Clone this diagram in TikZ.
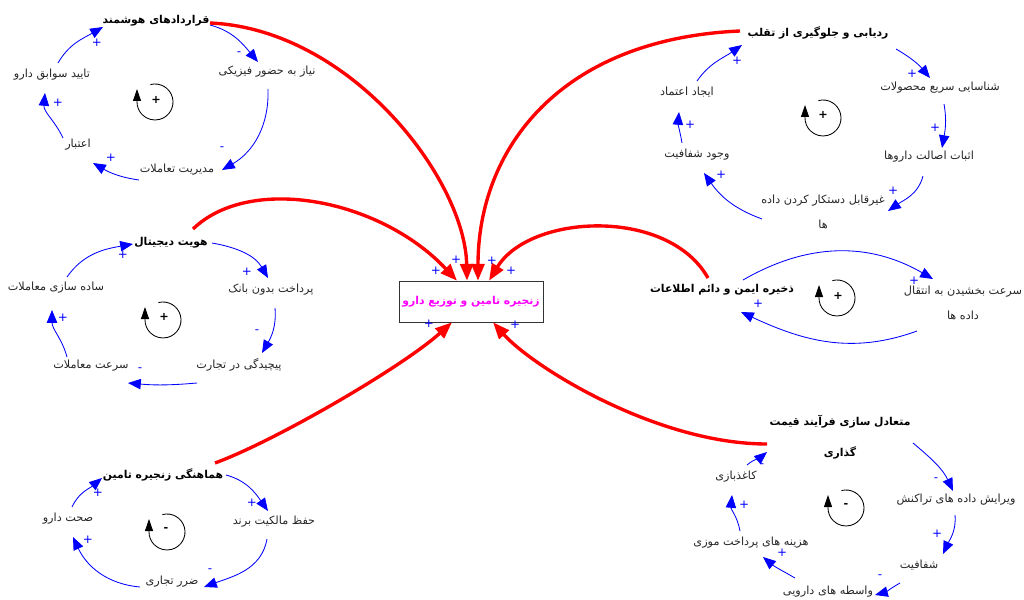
\documentclass[tikz,border=0pt]{standalone}
\usepackage{fontspec}
\usetikzlibrary{arrows.meta}
\newfontfamily\fa[Script=Arabic]{DejaVu Sans}
\TeXXeTstate=1
\newcommand{\fat}[1]{\beginR #1\endR}
\definecolor{linkblue}{RGB}{0,0,255}
\definecolor{feedred}{RGB}{255,0,0}
\definecolor{titlemag}{RGB}{255,0,255}

\begin{document}
\begin{tikzpicture}[x=0.025cm,y=0.025cm,
    var/.style={font={\fa\fontsize{8}{18}\selectfont}, text=black!85, inner sep=1pt, align=center},
    keyvar/.style={font={\fa\bfseries\fontsize{7.7}{22}\selectfont}, text=black, inner sep=1pt, align=center},
    sgn/.style={font={\fa\fontsize{8.5}{8}\selectfont}, text=linkblue, inner sep=0pt},
    loopsgn/.style={font={\fa\bfseries\fontsize{8}{8}\selectfont}, inner sep=0pt},
    link/.style={draw=linkblue, line width=0.6pt, -{Triangle[length=0.32cm,width=0.26cm]}},
    feed/.style={draw=feedred, line width=2.4pt, -{Triangle[length=0.42cm,width=0.32cm]}},
    loopmark/.style={draw=black, line width=0.6pt, -{Triangle[length=0.3cm,width=0.2cm]}}]
  \useasboundingbox (0,0) rectangle (1024,599);

  % central variable
  \node[draw=black!80, fill=white, minimum width=3.6cm, minimum height=1.025cm, inner sep=1pt,
        font={\fa\bfseries\fontsize{7.7}{10}\selectfont}, text=titlemag] (c) at (471,297.5) {\fat{زنجیره تامین و توزیع دارو}};

  % Loop 1: smart contracts
  \node[keyvar] (q1) at (156,578) {\fat{قراردادهای هوشمند}};
  \node[var] (q2) at (267,527) {\fat{نیاز به حضور فیزیکی}};
  \node[var] (q5) at (177,429) {\fat{مدیریت تعاملات}};
  \node[var] (q4) at (78,454) {\fat{اعتبار}};
  \node[var] (q3) at (52,524) {\fat{تایید سوابق دارو}};
  \draw[link] ([shift={(54,-4)}]q1.center) to[out=-15,in=130] ([shift={(-9,10)}]q2.center);
  \draw[link] ([shift={(1,-17)}]q2.center) to[out=-88,in=30] ([shift={(45,0)}]q5.center);
  \draw[link] ([shift={(-38,-10)}]q5.center) to[out=172,in=-30] ([shift={(15,-18)}]q4.center);
  \draw[link] ([shift={(-15,7)}]q4.center) to[out=115,in=-95] ([shift={(-7,-18)}]q3.center);
  \draw[link] ([shift={(6,12)}]q3.center) to[out=60,in=-150] ([shift={(-53,-6)}]q1.center);
  \node[sgn] (qs1) at (239,545) {-};
  \node[sgn] (qs2) at (222,450) {-};
  \node[sgn] (qs3) at (111,441) {+};
  \node[sgn] (qs4) at (58,496) {+};
  \node[sgn] (qs5) at (97,556) {+};
  \draw[loopmark] (155,497) ++(105:18) arc (105:-180:18) -- ++(0,13);
  \node[loopsgn] (ql) at (156,499) {+};

  % Loop 2: digital identity
  \node[keyvar] (h1) at (171,356) {\fat{هویت دیجیتال}};
  \node[var] (h2) at (271,309) {\fat{پرداخت بدون بانک}};
  \node[var] (h3) at (239,234) {\fat{پیچیدگی در تجارت}};
  \node[var] (h4) at (91,233) {\fat{سرعت معاملات}};
  \node[var] (h5) at (56,311) {\fat{ساده سازی معاملات}};
  \draw[link] ([shift={(41,0)}]h1.center) to[out=-10,in=120] ([shift={(-3,12)}]h2.center);
  \draw[link] ([shift={(4,-18)}]h2.center) to[out=-85,in=60] ([shift={(23,12)}]h3.center);
  \draw[link] ([shift={(-42,-18)}]h3.center) to[out=185,in=-5] ([shift={(37,-17)}]h4.center);
  \draw[link] ([shift={(-24,9)}]h4.center) to[out=105,in=-90] ([shift={(-4,-22)}]h5.center);
  \draw[link] ([shift={(11,11)}]h5.center) to[out=55,in=-170] ([shift={(-38,-1)}]h1.center);
  \node[sgn] (hs1) at (247,327) {+};
  \node[sgn] (hs2) at (257,267) {-};
  \node[sgn] (hs3) at (140,229) {-};
  \node[sgn] (hs4) at (63,281) {+};
  \node[sgn] (hs5) at (123,344) {+};
  \draw[loopmark] (163,279) ++(105:18) arc (105:-180:18) -- ++(0,13);
  \node[loopsgn] (hl) at (164,282) {+};

  % Loop 3: supply chain coordination
  \node[keyvar] (m1) at (163,124) {\fat{هماهنگی زنجیره تامین}};
  \node[var] (m2) at (274,77) {\fat{حفظ مالکیت برند}};
  \node[var] (m3) at (172,17) {\fat{ضرر تجاری}};
  \node[var] (m4) at (68,80) {\fat{صحت دارو}};
  \draw[link] ([shift={(63,0)}]m1.center) to[out=-15,in=125] ([shift={(-6,11)}]m2.center);
  \draw[link] ([shift={(-7,-17)}]m2.center) to[out=-100,in=20] ([shift={(32,-5)}]m3.center);
  \draw[link] ([shift={(-32,-5)}]m3.center) to[out=175,in=-65] ([shift={(5,-18)}]m4.center);
  \draw[link] ([shift={(4,12)}]m4.center) to[out=65,in=-140] ([shift={(-61,-3)}]m1.center);
  \node[sgn] (ms1) at (252,96) {+};
  \node[sgn] (ms2) at (210,28) {-};
  \node[sgn] (ms3) at (88,59) {+};
  \node[sgn] (ms4) at (98,106) {+};
  \draw[loopmark] (167,67) ++(105:18) arc (105:-180:18) -- ++(0,13);
  \node[loopsgn] (ml) at (166,70) {-};

  % Loop 4: tracking and fraud prevention
  \node[keyvar] (r1) at (818,566) {\fat{ردیابی و جلوگیری از تقلب}};
  \node[var] (r2) at (940,511) {\fat{شناسایی سریع محصولات}};
  \node[var] (r3) at (929,442) {\fat{اثبات اصالت داروها}};
  \node[var] (r4) at (823,387) {\fat{غیرقابل دستکار کردن داده}\\\fat{ها}};
  \node[var] (r5) at (697,444) {\fat{وجود شفافیت}};
  \node[var] (r6) at (687,507) {\fat{ایجاد اعتماد}};
  \draw[link] ([shift={(78,-16)}]r1.center) to[out=-30,in=130] ([shift={(-10,10)}]r2.center);
  \draw[link] ([shift={(4,-16)}]r2.center) to[out=-80,in=80] ([shift={(13,9)}]r3.center);
  \draw[link] ([shift={(-6,-19)}]r3.center) to[out=-105,in=35] ([shift={(65,1)}]r4.center);
  \draw[link] ([shift={(-61,-7)}]r4.center) to[out=160,in=-55] ([shift={(7,-18)}]r5.center);
  \draw[link] ([shift={(-15,12)}]r5.center) to[out=100,in=-95] ([shift={(-8,-20)}]r6.center);
  \draw[link] ([shift={(10,11)}]r6.center) to[out=55,in=-145] ([shift={(-76,-12)}]r1.center);
  \node[sgn] (rs1) at (912,525) {+};
  \node[sgn] (rs2) at (935,471) {+};
  \node[sgn] (rs3) at (893,408) {+};
  \node[sgn] (rs4) at (721,424) {+};
  \node[sgn] (rs5) at (690,474) {+};
  \node[sgn] (rs6) at (737,538) {+};
  \draw[loopmark] (823,481) ++(105:18) arc (105:-180:18) -- ++(0,13);
  \node[loopsgn] (rl) at (823,484) {+};

  % Loop 5: secure storage
  \node[keyvar] (z1) at (722,309) {\fat{ذخیره ایمن و دائم اطلاعات}};
  \node[var] (z2) at (963,296) {\fat{سرعت بخشیدن به انتقال}\\\fat{داده ها}};
  \draw[link] ([shift={(21,10)}]z1.center) to[out=30,in=150] ([shift={(-30,24)}]z2.center);
  \draw[link] ([shift={(-46,-28)}]z2.center) to[out=-160,in=-25] ([shift={(19,-22)}]z1.center);
  \node[sgn] (zs1) at (914,318) {+};
  \node[sgn] (zs2) at (758,295) {+};
  \draw[loopmark] (837,301) ++(105:18) arc (105:-180:18) -- ++(0,13);
  \node[loopsgn] (zl) at (838,303) {+};

  % Loop 6: pricing
  \node[keyvar] (t1) at (840,162) {\fat{متعادل سازی فرآیند قیمت}\\\fat{گذاری}};
  \node[var] (t2) at (956,99) {\fat{ویرایش داده  های تراکنش}};
  \node[var] (t3) at (919,34) {\fat{شفافیت}};
  \node[var] (t4) at (828,7) {\fat{واسطه های دارویی}};
  \node[var] (t5) at (751,56) {\fat{هزینه های پرداخت موزی}};
  \node[var] (t6) at (736,122) {\fat{کاغذبازی}};
  \draw[link] ([shift={(73,-6)}]t1.center) to[out=-40,in=115] ([shift={(-3,9)}]t2.center);
  \draw[link] ([shift={(-1,-15)}]t2.center) to[out=-85,in=65] ([shift={(24,11)}]t3.center);
  \draw[link] ([shift={(-19,-18)}]t3.center) to[out=-150,in=15] ([shift={(47,-3)}]t4.center);
  \draw[link] ([shift={(-33,14)}]t4.center) to[out=150,in=-40] ([shift={(12,-14)}]t5.center);
  \draw[link] ([shift={(-11,12)}]t5.center) to[out=100,in=-95] ([shift={(-4,-18)}]t6.center);
  \draw[link] ([shift={(11,12)}]t6.center) to[out=40,in=-140] ([shift={(-73,-15)}]t1.center);
  \node[sgn] (ts1) at (936,119) {-};
  \node[sgn] (ts2) at (937,65) {+};
  \node[sgn] (ts3) at (880,22) {-};
  \node[sgn] (ts4) at (782,46) {+};
  \node[sgn] (ts5) at (744,94) {+};
  \node[sgn] (ts6) at (762,133) {-};
  \draw[loopmark] (846,91) ++(105:18) arc (105:-180:18) -- ++(0,13);
  \node[loopsgn] (tl) at (846,94) {-};

  % feedback into the central variable
  \draw[feed] ([shift={(54,-2)}]q1.center) .. controls +(140,-6) and +(-2,102) .. ([shift={(-4,0)}]c.north);
  \draw[feed] ([shift={(22,14)}]h1.center) .. controls +(57,55) and +(-77,82) .. ([shift={(-14,0)}]c.north);
  \draw[feed] ([shift={(-78,2)}]r1.center) .. controls +(-180,-8) and +(0,132) .. ([shift={(7,0)}]c.north);
  \draw[feed] ([shift={(-14,12)}]z1.center) .. controls +(-40,71) and +(41,67) .. ([shift={(18,0)}]c.north);
  \draw[feed] ([shift={(52,12)}]m1.center) .. controls +(60,22) and +(-50,-45) .. ([shift={(-19,0)}]c.south);
  \draw[feed] ([shift={(-73,-7)}]t1.center) .. controls +(-110,0) and +(40,-45) .. ([shift={(22,0)}]c.south);
  \node[sgn] (cs1) at (436,328) {+};
  \node[sgn] (cs2) at (456,339) {+};
  \node[sgn] (cs3) at (492,338) {+};
  \node[sgn] (cs4) at (511,328) {+};
  \node[sgn] (cs5) at (429,275) {+};
  \node[sgn] (cs6) at (515,274) {+};
\end{tikzpicture}
\end{document}
